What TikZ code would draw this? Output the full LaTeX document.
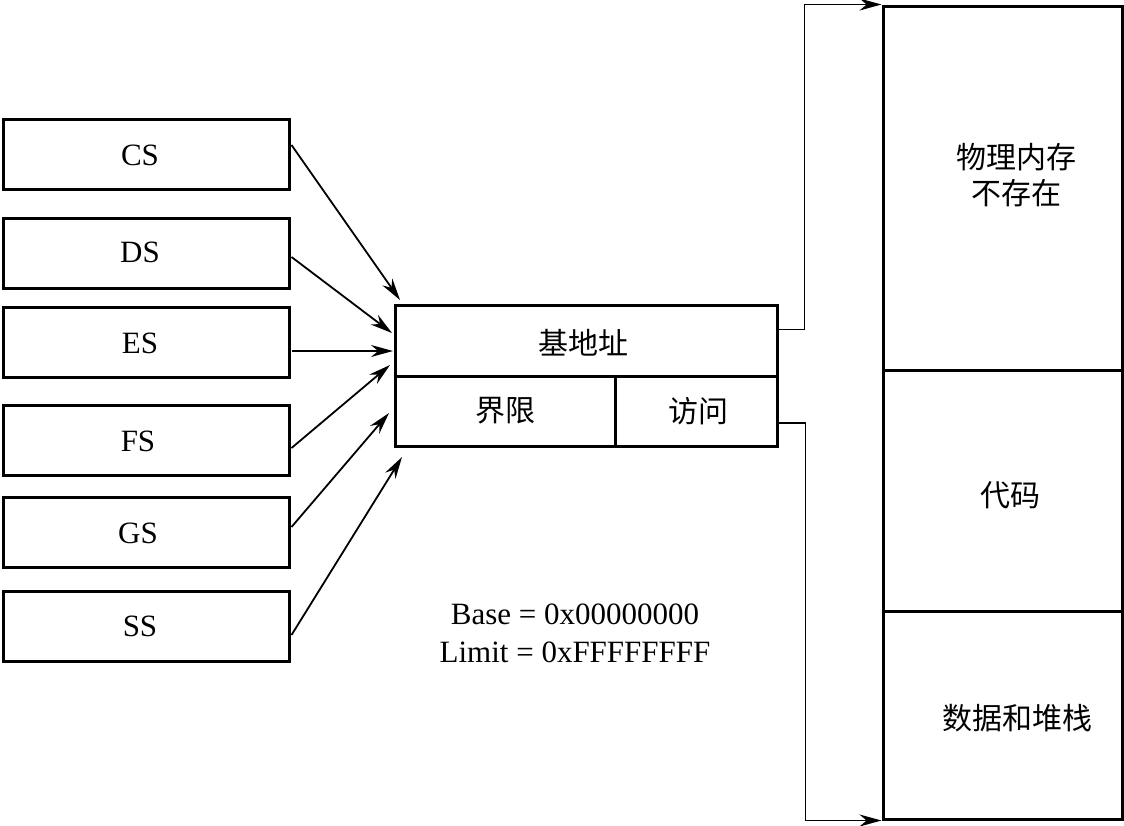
\documentclass[tikz,border=0pt]{standalone}
\usepackage{fontspec}
\setmainfont{Liberation Serif}
\newfontfamily\cjk{Noto Sans CJK SC}
\usetikzlibrary{arrows.meta}
\begin{document}
\begin{tikzpicture}[x=1pt,y=-1pt,
  box/.style={draw, line width=3pt, inner sep=0pt, font=\fontsize{31}{38}\selectfont},
  reg/.style={box, minimum width=286pt, minimum height=70pt},
  cjkbox/.style={box, font=\fontsize{30}{36}\selectfont\cjk},
  lbl/.style={inner sep=0pt, align=center, font=\fontsize{31}{38}\selectfont},
  cjklbl/.style={lbl, font=\fontsize{30}{36}\selectfont\cjk},
  conn/.style={line width=1.8pt, -{Stealth[length=22pt,width=12pt]}}]
\useasboundingbox (0,0) rectangle (1124,825);
% segment registers
\node[reg] (cs) at (146,154) {}; \node[lbl] (cst) at (140,155) {CS};
\node[reg] (ds) at (146,253) {}; \node[lbl] (dst) at (140,252) {DS};
\node[reg] (es) at (146,342.5) {}; \node[lbl] (est) at (140,343) {ES};
\node[reg] (fs) at (146,440) {}; \node[lbl] (fst) at (138,441) {FS};
\node[reg] (gs) at (146,532) {}; \node[lbl] (gst) at (138,533) {GS};
\node[reg] (ss) at (146,626.5) {}; \node[lbl] (sst) at (140,626) {SS};
% descriptor
\node[cjkbox, minimum width=382pt, minimum height=71pt] (base) at (586,340.5) {};
\node[cjklbl] (baset) at (583,343) {基地址};
\node[cjkbox, minimum width=220pt, minimum height=70pt] (lim) at (505,411) {界限};
\node[cjkbox, minimum width=162pt, minimum height=70pt] (acc) at (696,411) {};
\node[cjklbl] (acct) at (698,411) {访问};
% memory
\node[box, minimum width=239pt, minimum height=364pt] (top) at (1002.5,188) {};
\node[cjklbl] (toptxt) at (1016,175) {物理内存\\不存在};
\node[box, minimum width=239pt, minimum height=241pt] (mid) at (1002.5,490.5) {};
\node[cjklbl] (midt) at (1010,495) {代码};
\node[box, minimum width=239pt, minimum height=208pt] (bot) at (1002.5,715) {};
\node[cjklbl] (bott) at (1017,718) {数据和堆栈};
% note
\node[lbl] (note) at (575,633) {Base = 0x00000000\\Limit = 0xFFFFFFFF};
% arrow targets
\coordinate (e1) at (400,300);
\coordinate (e2) at (392,333);
\coordinate (e3) at (393,351);
\coordinate (e4) at (390,365);
\coordinate (e5) at (389,413);
\coordinate (e6) at (402,457);
\draw[conn] ([yshift=9pt,xshift=1pt]cs.east) -- (e1);
\draw[conn] ([yshift=-4pt,xshift=1pt]ds.east) -- (e2);
\draw[conn] ([yshift=-8.5pt,xshift=1pt]es.east) -- (e3);
\draw[conn] ([yshift=-8pt,xshift=1pt]fs.east) -- (e4);
\draw[conn] ([yshift=5pt,xshift=1pt]gs.east) -- (e5);
\draw[conn] ([yshift=-8.5pt,xshift=1pt]ss.east) -- (e6);
\draw[conn] ([yshift=11pt]base.east) -- ++(26,0) |- (top.north west);
\draw[conn] ([yshift=-12pt]acc.east) -- ++(27,0) |- (bot.south west);
\end{tikzpicture}
\end{document}
